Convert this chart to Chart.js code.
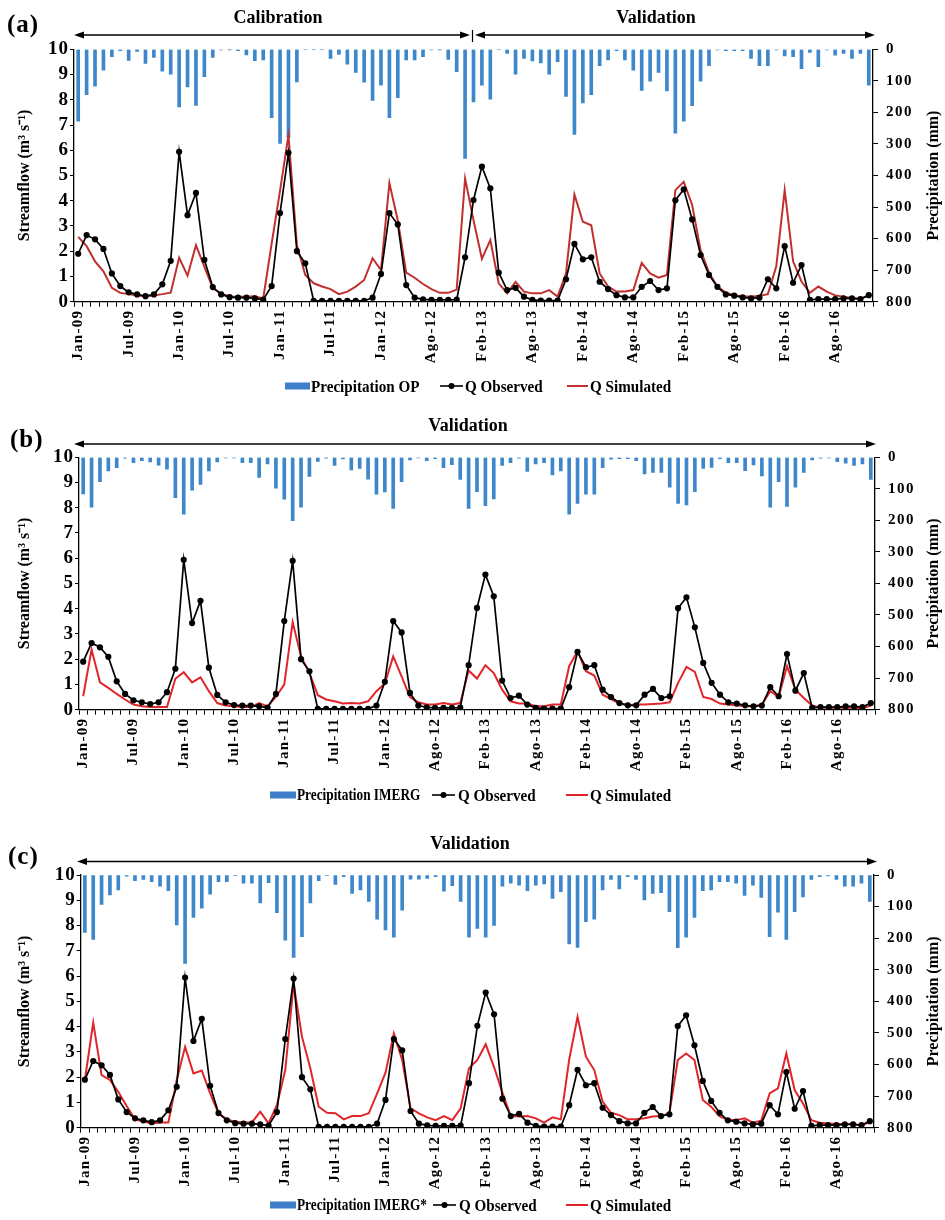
<!DOCTYPE html>
<html><head><meta charset="utf-8">
<script src="https://cdn.jsdelivr.net/npm/chart.js@4.4.1/dist/chart.umd.min.js"></script>
<style>
html,body{margin:0;padding:0;background:#fff;}
body{width:945px;height:1220px;position:relative;overflow:hidden;font-family:'Liberation Serif','Times New Roman',serif;font-weight:bold;color:#000;}
canvas{position:absolute;left:0;}
.t{position:absolute;white-space:nowrap;line-height:1;}
.panel{font-size:25px;letter-spacing:1px;}
.sec{font-size:18px;width:200px;text-align:center;}
.leg{font-size:17px;transform-origin:0 50%;transform:scaleX(0.89);}
.leg2{font-size:16px;transform-origin:0 50%;transform:scaleX(0.83);}
svg{position:absolute;left:0;top:0;}
</style></head><body>
<canvas id="ca" width="945" height="375" style="top:0px"></canvas>
<canvas id="cb" width="945" height="375" style="top:400px"></canvas>
<canvas id="cc" width="945" height="385" style="top:815px"></canvas>

<div class="t panel" style="left:7px;top:11px">(a)</div>
<div class="t panel" style="left:10px;top:426px">(b)</div>
<div class="t panel" style="left:8px;top:843px">(c)</div>

<div class="t sec" style="left:178px;top:8px">Calibration</div>
<div class="t sec" style="left:556px;top:8px">Validation</div>
<div class="t sec" style="left:368px;top:416px">Validation</div>
<div class="t sec" style="left:370px;top:834px">Validation</div>

<svg width="945" height="1220" viewBox="0 0 945 1220">
  <g stroke="#000" stroke-width="1.5" fill="#000">
    <line x1="80" y1="35" x2="464" y2="35"/>
    <polygon points="74,35 84,31.5 84,38.5" stroke="none"/>
    <polygon points="470,35 460,31.5 460,38.5" stroke="none"/>
    <line x1="472.5" y1="30" x2="472.5" y2="42" stroke-width="1.2"/>
    <line x1="481" y1="35" x2="869" y2="35"/>
    <polygon points="475,35 485,31.5 485,38.5" stroke="none"/>
    <polygon points="875,35 865,31.5 865,38.5" stroke="none"/>

    <line x1="80" y1="444" x2="870" y2="444"/>
    <polygon points="74,444 84,440.5 84,447.5" stroke="none"/>
    <polygon points="876,444 866,440.5 866,447.5" stroke="none"/>

    <line x1="83" y1="861.5" x2="871" y2="861.5"/>
    <polygon points="77,861.5 87,858 87,865" stroke="none"/>
    <polygon points="877,861.5 867,858 867,865" stroke="none"/>
  </g>
  <!-- legends -->
  <g>
    <rect x="285" y="382.5" width="25" height="7" fill="#3f7fc9"/>
    <line x1="440" y1="386" x2="463" y2="386" stroke="#000" stroke-width="1.6"/>
    <circle cx="451.5" cy="386" r="3" fill="#000"/>
    <line x1="567" y1="386" x2="588" y2="386" stroke="#c0302f" stroke-width="2"/>

    <rect x="270" y="791.5" width="26" height="7" fill="#3f7fc9"/>
    <line x1="432" y1="795" x2="455" y2="795" stroke="#000" stroke-width="1.6"/>
    <circle cx="443.5" cy="795" r="3" fill="#000"/>
    <line x1="566" y1="795" x2="588" y2="795" stroke="#e0262b" stroke-width="2"/>

    <rect x="270" y="1201.5" width="26" height="7" fill="#3f7fc9"/>
    <line x1="433" y1="1205" x2="456" y2="1205" stroke="#000" stroke-width="1.6"/>
    <circle cx="444.5" cy="1205" r="3" fill="#000"/>
    <line x1="566" y1="1205" x2="588" y2="1205" stroke="#e0262b" stroke-width="2"/>
  </g>
</svg>

<div class="t leg" style="left:311px;top:377.5px">Precipitation OP</div>
<div class="t leg" style="left:465px;top:377.5px">Q Observed</div>
<div class="t leg" style="left:590px;top:377.5px">Q Simulated</div>

<div class="t leg2" style="left:297px;top:787px">Precipitation IMERG</div>
<div class="t leg" style="left:458px;top:786.5px">Q Observed</div>
<div class="t leg" style="left:590px;top:786.5px">Q Simulated</div>

<div class="t leg2" style="left:297px;top:1197px">Precipitation IMERG*</div>
<div class="t leg" style="left:459px;top:1196.5px">Q Observed</div>
<div class="t leg" style="left:590px;top:1196.5px">Q Simulated</div>

<script>
// ---------------- DATA ----------------
// 95 monthly categories (Jul-12 absent in the source series)
const categories = [
 'Jan-09','Feb-09','Mar-09','Apr-09','May-09','Jun-09','Jul-09','Ago-09','Sep-09','Oct-09','Nov-09','Dec-09',
 'Jan-10','Feb-10','Mar-10','Apr-10','May-10','Jun-10','Jul-10','Ago-10','Sep-10','Oct-10','Nov-10','Dec-10',
 'Jan-11','Feb-11','Mar-11','Apr-11','May-11','Jun-11','Jul-11','Ago-11','Sep-11','Oct-11','Nov-11','Dec-11',
 'Jan-12','Feb-12','Mar-12','Apr-12','May-12','Jun-12','Ago-12','Sep-12','Oct-12','Nov-12','Dec-12',
 'Jan-13','Feb-13','Mar-13','Apr-13','May-13','Jun-13','Jul-13','Ago-13','Sep-13','Oct-13','Nov-13','Dec-13',
 'Jan-14','Feb-14','Mar-14','Apr-14','May-14','Jun-14','Jul-14','Ago-14','Sep-14','Oct-14','Nov-14','Dec-14',
 'Jan-15','Feb-15','Mar-15','Apr-15','May-15','Jun-15','Jul-15','Ago-15','Sep-15','Oct-15','Nov-15','Dec-15',
 'Jan-16','Feb-16','Mar-16','Apr-16','May-16','Jun-16','Jul-16','Ago-16','Sep-16','Oct-16','Nov-16','Dec-16'
];
const tickLabels = ['Jan-09','Jul-09','Jan-10','Jul-10','Jan-11','Jul-11','Jan-12','Ago-12',
                    'Feb-13','Ago-13','Feb-14','Ago-14','Feb-15','Ago-15','Feb-16','Ago-16'];
const tickEvery = 6;

const qObserved = [1.9,2.64,2.47,2.09,1.12,0.62,0.37,0.29,0.22,0.29,
 0.69,1.62,5.94,3.43,4.31,1.66,0.58,0.29,0.18,0.16,
 0.16,0.13,0.08,0.62,3.51,5.9,2.0,1.52,0.03,0.03,
 0.03,0.03,0.03,0.03,0.03,0.16,1.1,3.51,3.06,0.66,
 0.16,0.09,0.07,0.07,0.07,0.08,1.76,4.03,5.35,4.49,
 1.15,0.46,0.55,0.2,0.07,0.04,0.04,0.04,0.89,2.29,
 1.68,1.76,0.79,0.5,0.26,0.17,0.17,0.59,0.82,0.46,
 0.53,4.02,4.45,3.26,1.85,1.06,0.59,0.29,0.24,0.17,
 0.13,0.16,0.89,0.53,2.2,0.75,1.45,0.07,0.1,0.1,
 0.1,0.13,0.13,0.1,0.26];

const qSimOP = [2.57,2.2,1.6,1.2,0.55,0.35,0.3,0.25,0.22,0.25,
 0.3,0.36,1.74,1.03,2.24,1.39,0.53,0.33,0.2,0.2,
 0.2,0.22,0.13,2.3,4.4,6.6,2.24,1.06,0.73,0.6,
 0.5,0.3,0.4,0.6,0.86,1.72,1.25,4.7,3.22,1.15,
 0.95,0.7,0.5,0.35,0.35,0.48,4.88,3.23,1.7,2.44,
 0.73,0.33,0.79,0.4,0.33,0.33,0.46,0.2,1.12,4.25,
 3.17,3.03,1.12,0.6,0.4,0.4,0.46,1.54,1.12,0.95,
 1.06,4.42,4.75,3.83,2.04,1.15,0.6,0.36,0.26,0.22,
 0.2,0.24,0.3,1.4,4.42,1.6,0.8,0.35,0.6,0.4,
 0.25,0.2,0.15,0.12,0.25];

const qSimIMERG = [0.53,2.38,1.08,0.86,0.62,0.4,0.2,0.13,0.1,0.1,
 0.1,1.22,1.48,1.08,1.28,0.73,0.26,0.16,0.13,0.1,
 0.1,0.26,0.13,0.5,1.0,3.47,2.1,1.45,0.57,0.4,
 0.33,0.24,0.26,0.24,0.33,0.73,1.03,2.11,1.32,0.5,
 0.29,0.2,0.2,0.26,0.2,0.26,1.55,1.23,1.76,1.45,
 0.79,0.33,0.24,0.24,0.13,0.13,0.2,0.2,1.72,2.31,
 1.52,1.35,0.59,0.42,0.24,0.17,0.2,0.2,0.22,0.24,
 0.29,1.06,1.69,1.49,0.5,0.42,0.24,0.2,0.17,0.13,
 0.13,0.2,0.73,0.5,1.72,0.79,0.46,0.16,0.07,0.07,
 0.07,0.07,0.07,0.04,0.16];

const qSimIMERGstar = [1.89,4.16,2.08,1.89,1.42,0.86,0.33,0.24,0.17,0.21,
 0.21,1.89,3.2,2.15,2.26,1.36,0.57,0.33,0.24,0.21,
 0.21,0.63,0.17,0.9,2.28,5.69,3.6,2.35,0.83,0.59,
 0.57,0.33,0.46,0.46,0.57,1.36,2.18,3.73,2.68,0.77,
 0.57,0.41,0.3,0.46,0.3,0.77,2.35,2.68,3.3,2.4,
 1.39,0.46,0.44,0.46,0.37,0.2,0.41,0.33,2.7,4.39,
 2.81,2.28,1.03,0.59,0.5,0.33,0.33,0.37,0.44,0.46,
 0.57,2.68,2.94,2.68,1.1,0.83,0.46,0.3,0.3,0.37,
 0.2,0.28,1.36,1.56,2.94,1.49,0.96,0.3,0.2,0.17,
 0.15,0.15,0.15,0.08,0.24];

const precipOP = [228,144,117,66,23,4,35,7,45,26,
 69,79,183,119,178,87,26,2,1,4,
 18,36,34,217,298,280,103,0,0,0,
 29,16,47,73,104,162,114,217,153,34,
 34,23,2,1,32,71,346,167,114,158,
 0,13,79,29,37,43,79,39,149,270,
 170,144,52,34,4,34,66,130,101,73,
 132,266,228,179,101,52,2,4,4,4,
 29,52,52,2,21,23,61,10,55,2,
 19,13,29,13,114];

const precipIMERG = [116,158,77,43,33,3,17,11,15,25,
 38,128,180,104,86,43,15,2,2,17,
 17,64,21,98,133,201,158,61,13,3,
 26,5,40,35,69,117,110,162,77,8,
 2,11,4,33,23,70,162,109,153,132,
 26,17,3,45,21,17,56,43,180,146,
 117,117,33,6,4,4,11,53,48,48,
 95,146,151,109,35,32,4,17,17,42,
 24,59,158,77,156,95,48,8,3,2,
 14,19,26,21,70];

const precipIMERGstar = [182,204,93,63,47,4,18,14,21,35,
 50,158,280,134,105,61,21,21,2,26,
 26,88,24,119,206,261,195,88,18,2,
 30,5,58,47,84,140,174,197,111,13,
 13,11,5,51,34,84,197,169,197,160,
 35,26,32,50,32,28,74,53,218,229,
 148,140,47,14,44,5,14,79,58,56,
 116,230,197,134,50,47,21,21,26,65,
 32,71,195,118,204,116,69,14,5,3,
 14,35,35,26,84];

// ---------------- CHARTS ----------------
const serif = "'Liberation Serif','Times New Roman',serif";
const barBlue = '#3d87ca';

const spacingPlugin = {
  id: 'tickSpacing',
  beforeDraw(chart, args, opts) {
    Object.values(chart.scales).forEach(s => {
      if (s.__wrapped) return;
      const orig = s.drawLabels;
      const sp = (opts && opts[s.id]) || '0px';
      s.drawLabels = function (area) {
        const c = this.ctx; c.save(); c.letterSpacing = sp; orig.call(this, area); c.restore();
      };
      s.__wrapped = true;
    });
  }
};

const rightTitlePlugin = {
  id: 'rightTitle',
  afterDraw(chart, args, opts) {
    const {ctx, chartArea} = chart;
    ctx.save();
    ctx.font = 'bold 16px ' + serif;
    ctx.fillStyle = '#000';
    ctx.textAlign = 'center';
    ctx.textBaseline = 'middle';
    ctx.translate(opts.x, (chartArea.top + chartArea.bottom) / 2);
    ctx.rotate(-Math.PI / 2);
    ctx.fillText(opts.text, 0, 0);
    ctx.restore();
  }
};

function buildChart(id, cfg) {
  return new Chart(document.getElementById(id), {
    data: {
      labels: categories,
      datasets: [
        {type: 'line', label: 'Q Observed', data: qObserved, yAxisID: 'y',
         borderColor: '#000', backgroundColor: '#000', borderWidth: 1.7,
         pointRadius: 3.1, pointBorderWidth: 0, pointBackgroundColor: '#000', tension: 0, order: 1},
        {type: 'line', label: 'Q Simulated', data: cfg.sim, yAxisID: 'y',
         borderColor: cfg.red, borderWidth: 2, pointRadius: 0, tension: 0, order: 2},
        {type: 'bar', label: cfg.precipLabel, data: cfg.precip, yAxisID: 'y1',
         backgroundColor: barBlue, barThickness: 3, order: 3}
      ]
    },
    plugins: [spacingPlugin, rightTitlePlugin],
    options: {
      responsive: false,
      animation: false,
      events: [],
      layout: {padding: {top: cfg.top, left: 0, right: 0, bottom: 0}},
      plugins: {
        legend: {display: false},
        tooltip: {enabled: false},
        tickSpacing: {x: '1.3px', y: '1px', y1: '1.5px'},
        rightTitle: {text: 'Precipitation (mm)', x: 934}
      },
      scales: {
        x: {
          type: 'category', offset: true,
          grid: {display: true, offset: true, drawOnChartArea: false, drawTicks: true, tickLength: 5, color: '#000', lineWidth: 1},
          border: {display: true, color: '#000', width: 1.3},
          ticks: {autoSkip: false, maxRotation: 90, minRotation: 90, padding: 3, color: '#000',
                  font: {family: serif, size: 15, weight: 'bold'},
                  callback: (v, i) => (i % tickEvery === 0 ? tickLabels[i / tickEvery] : '')},
          afterFit: s => { s.height = cfg.xh; }
        },
        y: {
          position: 'left', min: 0, max: 10,
          ticks: {stepSize: 1, autoSkip: false, padding: 1, color: '#000', font: {family: serif, size: 19, weight: 'bold'}},
          grid: {drawOnChartArea: false, drawTicks: true, tickLength: 4, color: '#000'},
          border: {color: '#000', width: 1.3},
          title: {display: true, text: 'Streamflow (m³ s⁻¹)', color: '#000',
                  font: {family: serif, size: 16, weight: 'bold'}, padding: {top: 15, bottom: 0}},
          afterFit: s => { s.width = cfg.left; }
        },
        y1: {
          position: 'right', min: 0, max: 800, reverse: true,
          ticks: {stepSize: 100, autoSkip: false, padding: 8, color: '#000', font: {family: serif, size: 15, weight: 'bold'}},
          grid: {drawOnChartArea: false, drawTicks: true, tickLength: 5, color: '#000'},
          border: {color: '#000', width: 1.3},
          afterFit: s => { s.width = 945 - cfg.right; }
        }
      }
    }
  });
}

buildChart('ca', {sim: qSimOP, precip: precipOP, precipLabel: 'Precipitation OP', red: '#c0302f',
                  top: 49.3, xh: 73.3, left: 74, right: 873});
buildChart('cb', {sim: qSimIMERG, precip: precipIMERG, precipLabel: 'Precipitation IMERG', red: '#e0262b',
                  top: 57.3, xh: 65.4, left: 79, right: 875});
buildChart('cc', {sim: qSimIMERGstar, precip: precipIMERGstar, precipLabel: 'Precipitation IMERG*', red: '#e0262b',
                  top: 60, xh: 72.3, left: 80.7, right: 874});
</script>
</body></html>
